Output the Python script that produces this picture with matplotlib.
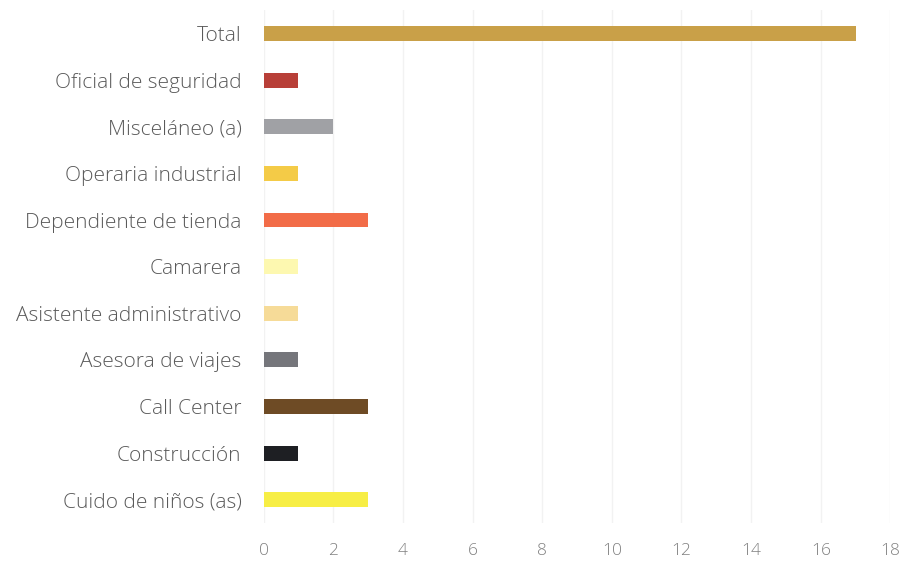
import matplotlib.pyplot as plt

categorias = ["Cuido de niños (as)", "Construcción", "Call Center", "Asesora de viajes",
              "Asistente administrativo", "Camarera", "Dependiente de tienda",
              "Operaria industrial", "Misceláneo (a)", "Oficial de seguridad", "Total"]
valores = [3, 1, 3, 1, 1, 1, 3, 1, 2, 1, 17]
colores = ["#F7EE45", "#1E1F23", "#6E4B25", "#75767B", "#F6DB98", "#FDF8B0",
           "#F26C48", "#F4CB47", "#A0A1A5", "#B83F38", "#C9A048"]

plt.rcParams['font.family'] = ['Open Sans', 'DejaVu Sans']

fig = plt.figure(figsize=(9.03, 5.62), dpi=100)
ax = fig.add_axes([0.292, 0.069, 0.694, 0.913])

ax.barh(range(len(categorias)), valores, height=0.32, color=colores, zorder=3)

ax.set_xlim(0, 18)
ax.set_ylim(-0.5, len(categorias) - 0.5)
ax.set_xticks(range(0, 19, 2))
ax.set_yticks(range(len(categorias)))
ax.set_yticklabels(categorias, fontsize=15, fontweight='light', color="#5A5A5A")
for t in ax.get_xticklabels():
    t.set_fontweight('light')
ax.tick_params(axis='x', labelsize=12.5, labelcolor="#808080", length=0, pad=14)
ax.tick_params(axis='y', length=0, pad=16)

ax.grid(axis='x', color="#F2F2F2", linewidth=1, zorder=0)
for s in ax.spines.values():
    s.set_visible(False)

fig.savefig("out.png", dpi=100)
